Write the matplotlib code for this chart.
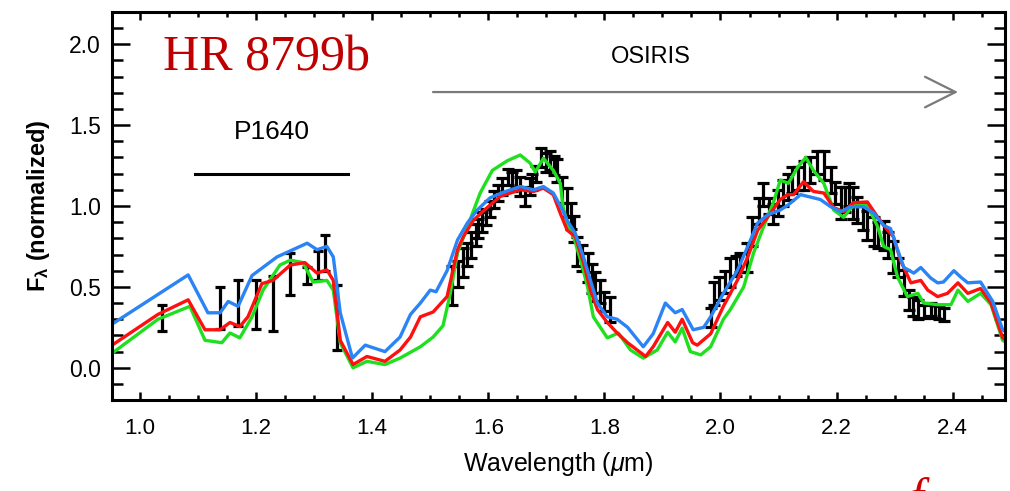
import numpy as np
import matplotlib
matplotlib.use("Agg")
import matplotlib.pyplot as plt
from matplotlib.ticker import MultipleLocator

plt.rcParams["font.family"] = ["Liberation Sans", "DejaVu Sans"]
plt.rcParams["mathtext.fontset"] = "custom"
plt.rcParams["mathtext.rm"] = "Liberation Sans"
plt.rcParams["mathtext.it"] = "Liberation Sans:italic"
plt.rcParams["mathtext.bf"] = "Liberation Sans:bold"

# ---- model spectra ----
wl_blue = [0.952, 1.083, 1.117, 1.138, 1.152, 1.169, 1.193, 1.236, 1.288, 1.305, 1.322, 1.333,
           1.345, 1.366, 1.388, 1.422, 1.448, 1.466, 1.483, 1.500, 1.510, 1.529, 1.547, 1.564,
           1.581, 1.603, 1.626, 1.655, 1.678, 1.695, 1.712, 1.728, 1.736, 1.750, 1.764, 1.776,
           1.788, 1.805, 1.822, 1.840, 1.867, 1.884, 1.905, 1.922, 1.934, 1.953, 1.971, 1.983,
           2.005, 2.029, 2.047, 2.064, 2.081, 2.103, 2.116, 2.138, 2.155, 2.172, 2.190, 2.207,
           2.224, 2.247, 2.264, 2.281, 2.293, 2.305, 2.316, 2.333, 2.345, 2.362, 2.374, 2.384,
           2.402, 2.414, 2.426, 2.448, 2.469, 2.486, 2.500]
f_blue = [0.27, 0.574, 0.34, 0.34, 0.41, 0.38, 0.57, 0.685, 0.77, 0.73, 0.75, 0.685,
          0.34, 0.06, 0.14, 0.10, 0.19, 0.33, 0.40, 0.48, 0.47, 0.60, 0.79, 0.895,
          0.975, 1.05, 1.085, 1.12, 1.10, 1.12, 1.08, 0.975, 0.91, 0.83, 0.685, 0.54,
          0.40, 0.315, 0.30, 0.25, 0.13, 0.21, 0.40, 0.34, 0.36, 0.235, 0.25, 0.315,
          0.46, 0.60, 0.75, 0.895, 0.945, 0.975, 1.005, 1.07, 1.055, 1.04, 0.995, 0.965,
          0.995, 0.995, 0.955, 0.88, 0.86, 0.73, 0.62, 0.585, 0.62, 0.555, 0.525, 0.53,
          0.60, 0.56, 0.525, 0.53, 0.41, 0.235, 0.20]

wl_red = [0.952, 1.031, 1.083, 1.112, 1.138, 1.155, 1.172, 1.186, 1.210, 1.229, 1.259, 1.284,
          1.305, 1.322, 1.333, 1.345, 1.367, 1.391, 1.422, 1.448, 1.466, 1.483, 1.505, 1.529,
          1.547, 1.557, 1.574, 1.598, 1.621, 1.655, 1.678, 1.695, 1.712, 1.724, 1.736, 1.750,
          1.764, 1.776, 1.788, 1.805, 1.822, 1.840, 1.871, 1.884, 1.909, 1.922, 1.934, 1.952,
          1.960, 1.983, 2.005, 2.029, 2.047, 2.064, 2.081, 2.103, 2.116, 2.126, 2.143, 2.160,
          2.178, 2.195, 2.212, 2.229, 2.253, 2.271, 2.288, 2.298, 2.310, 2.328, 2.345, 2.357,
          2.374, 2.391, 2.409, 2.426, 2.448, 2.466, 2.486, 2.500]
f_red = [0.14, 0.33, 0.42, 0.235, 0.235, 0.28, 0.255, 0.315, 0.52, 0.54, 0.635, 0.65,
         0.585, 0.605, 0.54, 0.17, 0.02, 0.07, 0.04, 0.11, 0.19, 0.315, 0.345, 0.44,
         0.73, 0.81, 0.91, 0.99, 1.06, 1.10, 1.09, 1.11, 1.07, 0.955, 0.85, 0.81,
         0.65, 0.48, 0.36, 0.28, 0.215, 0.155, 0.07, 0.13, 0.28, 0.22, 0.30, 0.155,
         0.14, 0.21, 0.38, 0.54, 0.685, 0.85, 0.93, 1.04, 1.07, 1.07, 1.15, 1.09,
         1.08, 0.99, 0.965, 1.02, 1.025, 0.93, 0.85, 0.81, 0.665, 0.525, 0.54, 0.48,
         0.44, 0.46, 0.525, 0.46, 0.49, 0.40, 0.185, 0.16]

wl_green = [0.952, 1.031, 1.086, 1.112, 1.141, 1.155, 1.172, 1.193, 1.212, 1.241, 1.259, 1.281,
            1.298, 1.322, 1.333, 1.345, 1.367, 1.391, 1.422, 1.448, 1.483, 1.505, 1.522, 1.534,
            1.547, 1.564, 1.586, 1.607, 1.633, 1.655, 1.672, 1.681, 1.695, 1.712, 1.724, 1.729,
            1.738, 1.747, 1.759, 1.771, 1.781, 1.805, 1.824, 1.845, 1.867, 1.891, 1.909, 1.922,
            1.934, 1.948, 1.966, 1.983, 2.005, 2.017, 2.040, 2.057, 2.074, 2.091, 2.103, 2.117,
            2.133, 2.147, 2.160, 2.178, 2.195, 2.212, 2.229, 2.253, 2.271, 2.281, 2.293, 2.305,
            2.322, 2.340, 2.350, 2.374, 2.397, 2.409, 2.426, 2.448, 2.466, 2.486, 2.500]
f_green = [0.09, 0.30, 0.38, 0.17, 0.155, 0.215, 0.185, 0.315, 0.48, 0.635, 0.665, 0.65,
           0.53, 0.54, 0.48, 0.155, 0.0, 0.04, 0.02, 0.06, 0.13, 0.19, 0.26, 0.45,
           0.71, 0.87, 1.08, 1.22, 1.28, 1.315, 1.265, 1.21, 1.295, 1.22, 1.14, 0.99,
           0.87, 0.81, 0.665, 0.50, 0.315, 0.185, 0.215, 0.11, 0.06, 0.11, 0.22, 0.16,
           0.245, 0.10, 0.08, 0.13, 0.30, 0.36, 0.50, 0.71, 0.87, 1.02, 1.16, 1.14,
           1.24, 1.30, 1.22, 1.14, 0.975, 0.93, 1.005, 1.005, 0.87, 0.75, 0.73, 0.56,
           0.44, 0.46, 0.40, 0.39, 0.39, 0.48, 0.41, 0.46, 0.39, 0.17, 0.14]

# ---- P1640 photometry ----
wl_p1640 = [1.038, 1.138, 1.169, 1.200, 1.229, 1.259, 1.288, 1.307, 1.319, 1.340]
f_p1640 = [0.31, 0.37, 0.40, 0.39, 0.40, 0.58, 0.57, 0.63, 0.71, 0.31]
e_p1640 = [0.08, 0.13, 0.14, 0.15, 0.17, 0.13, 0.05, 0.09, 0.11, 0.20]

# ---- OSIRIS H band ----
wl_osh = [1.538, 1.547, 1.557, 1.564, 1.571, 1.578, 1.583, 1.590, 1.596, 1.603, 1.610, 1.617,
          1.624, 1.634, 1.641, 1.648, 1.655, 1.664, 1.671, 1.676, 1.683, 1.691, 1.699, 1.707,
          1.713, 1.719, 1.727, 1.736, 1.742, 1.747, 1.753, 1.762, 1.771, 1.778, 1.784, 1.793,
          1.800, 1.810]
f_osh = [0.51, 0.58, 0.65, 0.70, 0.76, 0.82, 0.86, 0.90, 0.93, 0.98, 1.04, 1.08,
         1.12, 1.18, 1.15, 1.17, 1.12, 1.06, 1.12, 1.15, 1.20, 1.30, 1.27, 1.28,
         1.25, 1.22, 1.10, 1.02, 0.94, 0.86, 0.72, 0.68, 0.62, 0.55, 0.50, 0.47,
         0.41, 0.36]
e_osh = [0.12, 0.08, 0.09, 0.07, 0.08, 0.07, 0.06, 0.06, 0.05, 0.05, 0.05, 0.05,
         0.05, 0.05, 0.06, 0.05, 0.06, 0.06, 0.05, 0.05, 0.05, 0.06, 0.06, 0.06,
         0.06, 0.07, 0.08, 0.09, 0.08, 0.08, 0.09, 0.08, 0.09, 0.09, 0.09, 0.07,
         0.06, 0.08]

# ---- OSIRIS K band ----
wl_osk = [1.983, 1.988, 1.998, 2.008, 2.017, 2.026, 2.034, 2.045, 2.055, 2.066, 2.074, 2.083,
          2.091, 2.099, 2.107, 2.116, 2.124, 2.133, 2.143, 2.155, 2.167, 2.178, 2.190, 2.198,
          2.207, 2.214, 2.221, 2.229, 2.236, 2.245, 2.253, 2.264, 2.272, 2.281, 2.289, 2.297,
          2.305, 2.316, 2.324, 2.332, 2.340, 2.350, 2.362, 2.370, 2.376, 2.385]
f_osk = [0.31, 0.46, 0.49, 0.53, 0.59, 0.63, 0.65, 0.68, 0.84, 0.97, 1.07, 1.00,
         0.95, 1.02, 1.08, 1.12, 1.16, 1.17, 1.19, 1.22, 1.27, 1.25, 1.16, 1.08,
         1.02, 1.04, 1.07, 1.02, 0.975, 0.93, 0.88, 0.84, 0.82, 0.82, 0.76, 0.685,
         0.62, 0.525, 0.42, 0.38, 0.36, 0.35, 0.36, 0.35, 0.34, 0.33]
e_osk = [0.06, 0.07, 0.07, 0.07, 0.09, 0.06, 0.06, 0.09, 0.09, 0.08, 0.07, 0.05,
         0.06, 0.08, 0.08, 0.08, 0.08, 0.07, 0.09, 0.08, 0.07, 0.09, 0.08, 0.07,
         0.1, 0.08, 0.07, 0.1, 0.08, 0.08, 0.09, 0.09, 0.08, 0.09, 0.08, 0.1,
         0.06, 0.08, 0.06, 0.06, 0.06, 0.04, 0.04, 0.04, 0.04, 0.04]

fig = plt.figure(figsize=(10.1, 4.91), dpi=100)
ax = fig.add_axes([0.111, 0.185, 0.884, 0.791])

# dados
eb = dict(fmt="none", ecolor="black", elinewidth=2.3, capthick=2.3)
ax.errorbar(wl_p1640, f_p1640, yerr=e_p1640, capsize=3.8, **eb)
ax.errorbar(wl_osh, f_osh, yerr=e_osh, capsize=4.6, **eb)
ax.errorbar(wl_osk, f_osk, yerr=e_osk, capsize=4.6, **eb)

# modelos
ax.plot(wl_green, f_green, color="#1ee01e", lw=2.4, solid_joinstyle="round")
ax.plot(wl_red, f_red, color="#ff1010", lw=2.4, solid_joinstyle="round")
ax.plot(wl_blue, f_blue, color="#2a84f5", lw=2.4, solid_joinstyle="round")

ax.set_xlim(0.952, 2.49)
ax.set_ylim(-0.2, 2.2)

ax.xaxis.set_major_locator(MultipleLocator(0.2))
ax.xaxis.set_minor_locator(MultipleLocator(0.05))
ax.yaxis.set_major_locator(MultipleLocator(0.5))
ax.yaxis.set_minor_locator(MultipleLocator(0.1))
ax.tick_params(axis="both", which="both", direction="in", top=True, right=True, width=1.8)
ax.tick_params(axis="y", which="major", length=13, labelsize=16.5, pad=8)
ax.tick_params(axis="y", which="minor", length=8)
ax.tick_params(axis="x", which="major", length=6, labelsize=16, pad=13)
ax.tick_params(axis="x", which="minor", length=3.5)
for s in ax.spines.values():
    s.set_linewidth(2.2)

ax.set_xlabel(r"Wavelength ($\mu$m)", fontsize=18, labelpad=8)
ax.set_ylabel(r"F$_\mathbf{\lambda}$ (normalized)", fontsize=17, fontweight="bold", labelpad=12)

# anotações
ax.text(1.04, 1.84, "HR 8799b", color="#c00000", fontsize=36, family="Liberation Serif",
        ha="left", va="baseline")
ax.text(1.228, 1.46, "P1640", fontsize=19, ha="center", va="center")
ax.plot([1.095, 1.359], [1.20, 1.20], color="black", lw=2.2)
ax.text(1.88, 1.92, "OSIRIS", fontsize=17, ha="center", va="center")
ax.annotate("", xy=(2.414, 1.704), xytext=(1.5, 1.704),
            arrowprops=dict(arrowstyle="->,head_length=1.1,head_width=0.55",
                            color="#7a7a7a", lw=1.6, mutation_scale=20))

fig.text(0.9, -0.045, "f", color="#d00000", fontsize=36, style="italic",
         family="Liberation Serif", va="baseline")

fig.savefig("out.png", dpi=100)
